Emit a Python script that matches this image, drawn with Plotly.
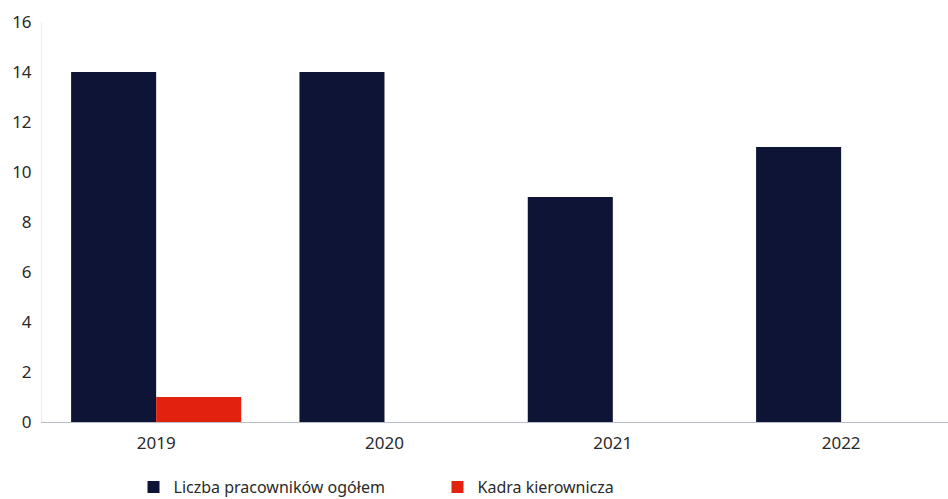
import plotly.graph_objects as go

# data
years = ["2019", "2020", "2021", "2022"]
employees_total = [14, 14, 9, 11]
management = [1, 0, 0, 0]

fig = go.Figure()

fig.add_trace(go.Bar(
    x=years,
    y=employees_total,
    name="Liczba pracowników ogółem",
    marker=dict(color="#0d1436", line=dict(width=0)),
))

fig.add_trace(go.Bar(
    x=years,
    y=management,
    name="Kadra kierownicza",
    marker=dict(color="#e2220f", line=dict(width=0)),
))

fig.update_layout(
    width=948,
    height=499,
    margin=dict(l=42, r=0, t=22, b=77, autoexpand=False),
    paper_bgcolor="white",
    plot_bgcolor="white",
    barmode="group",
    bargap=0.255,
    bargroupgap=0,
    font=dict(family="Noto Sans, Open Sans, sans-serif", size=17, color="#2a2a2a"),
    showlegend=True,
    legend=dict(
        orientation="h",
        x=0.101,
        xanchor="left",
        y=-0.1625,
        yanchor="middle",
        font=dict(size=16, color="#2a2a2a"),
        itemwidth=30,
        entrywidth=259,
        entrywidthmode="pixels",
    ),
    xaxis=dict(
        range=[-0.5, 3.468],
        showline=True,
        linecolor="#b8bcc8",
        linewidth=1,
        ticks="",
        showgrid=False,
        tickfont=dict(size=17),
        ticklabelstandoff=6,
    ),
    yaxis=dict(
        range=[0, 16],
        dtick=2,
        showline=True,
        linecolor="#eeeeee",
        showgrid=False,
        zeroline=False,
        ticks="",
        tickfont=dict(size=17),
        ticklabelstandoff=6,
    ),
)

# drop the default page margin so the chart sits at the window's corner
fig.write_html(
    "out.html",
    config={"displayModeBar": False},
    post_script="document.body.style.margin='0';",
)
